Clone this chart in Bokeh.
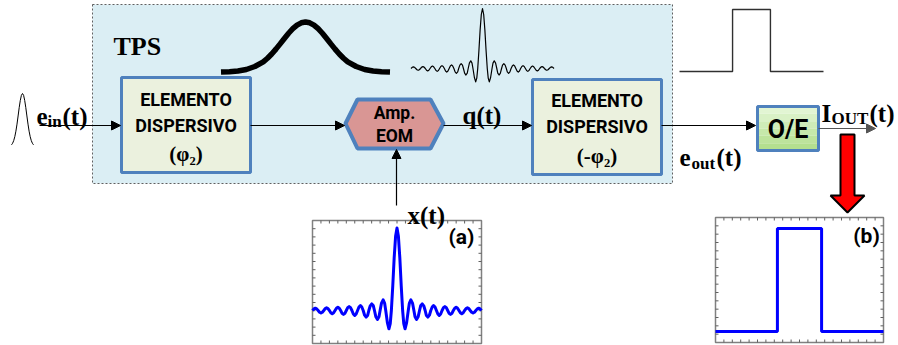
from bokeh.plotting import figure
from bokeh.models import Range1d, Arrow, NormalHead, Label
from bokeh.embed import file_html
from bokeh.resources import INLINE

# ---------------- data ----------------
# input pulse e_in(t): half profile, normalised time 0..1, amplitude 0..1
ein_t = [0.0, 0.1, 0.2, 0.3, 0.4, 0.5, 0.6, 0.7, 0.8, 0.9, 1.0]
ein_v = [1.0, 0.966, 0.87, 0.733, 0.576, 0.422, 0.289, 0.185, 0.11, 0.061, 0.032]

# dispersed (broadened) pulse: half profile
broad_t = [0.0, 0.05, 0.1, 0.15, 0.2, 0.25, 0.3, 0.35, 0.4, 0.45, 0.5, 0.6, 0.7, 0.8, 0.9, 1.0]
broad_v = [1.0, 0.984, 0.938, 0.866, 0.775, 0.671, 0.563, 0.458, 0.36, 0.275, 0.203, 0.11, 0.05, 0.02, 0.006, 0.0]

# modulating signal x(t) (and q(t)): half profile, time in lobe units 0..15
xs_t = [0.0, 0.25, 0.5, 0.75, 1.0, 1.2, 1.43, 1.7, 2.0, 2.2, 2.46, 2.75,
        3.0, 3.2, 3.47, 3.75, 4.0, 4.2, 4.48, 4.75, 5.0, 5.2, 5.48, 5.75,
        6.0, 6.25, 6.49, 6.75, 7.0, 7.25, 7.5, 7.75, 8.0, 8.25, 8.5, 8.75,
        9.0, 9.25, 9.5, 9.75, 10.0, 10.25, 10.5, 10.75, 11.0, 11.25, 11.5, 11.75,
        12.0, 12.25, 12.5, 12.75, 13.0, 13.25, 13.5, 13.75, 14.0, 14.25, 14.5, 14.75, 15.0]
xs_v = [1.0, 0.90, 0.64, 0.30, 0.0, -0.16, -0.222, -0.15, 0.0, 0.09, 0.129, 0.09,
        0.0, -0.077, -0.109, -0.077, 0.0, 0.057, 0.081, 0.057, 0.0, -0.057, -0.081, -0.057,
        0.0, 0.042, 0.06, 0.042, 0.0, -0.042, -0.06, -0.042, 0.0, 0.034, 0.048, 0.034,
        0.0, -0.034, -0.048, -0.034, 0.0, 0.028, 0.04, 0.028, 0.0, -0.028, -0.04, -0.028,
        0.0, 0.023, 0.032, 0.023, 0.0, -0.021, -0.03, -0.021, 0.0, 0.02, 0.028, 0.02, 0.0]
XS_SPAN = 15.0

# rectangular output pulse I_OUT(t), normalised time -1..1
rect_t = [-1.0, -0.263, -0.263, 0.263, 0.263, 1.0]
rect_v = [0.0, 0.0, 1.0, 1.0, 0.0, 0.0]

# ---------------- helpers ----------------
def mirror(t, v):
    tt = [-a for a in reversed(t[1:])] + list(t)
    vv = list(reversed(v[1:])) + list(v)
    return tt, vv

def place(t, v, cx, half_w, base_y, amp, span=1.0):
    return [cx + a / span * half_w for a in t], [base_y - b * amp for b in v]

W, H = 898, 345
p = figure(width=W, height=H, x_range=Range1d(0, W), y_range=Range1d(H, 0),
           output_backend="svg", toolbar_location=None,
           x_axis_type=None, y_axis_type=None, min_border=0)
p.outline_line_color = None
p.grid.visible = False
p.background_fill_color = "white"
p.border_fill_color = "white"

SERIF = "Liberation Serif"
SANS = "Roboto"
BLUE_BORDER = "#4f81bd"

def txt(x, y, s, font, size, align="left", baseline="alphabetic", style="bold", color="black"):
    p.add_layout(Label(x=x, y=y, text=s, text_font=font, text_font_size=f"{size}px",
                       text_font_style=style, text_align=align, text_baseline=baseline,
                       text_color=color))

def arrow(x0, y0, x1, y1, color="black", lw=1.2):
    p.add_layout(Arrow(end=NormalHead(size=9, fill_color=color, line_color=color, line_width=1),
                       x_start=x0, y_start=y0, x_end=x1, y_end=y1,
                       line_color=color, line_width=lw))

# ---------------- TPS region ----------------
p.quad(left=92, right=672, top=4, bottom=183, fill_color="#dbeef4",
       line_color="#606060", line_dash="2 2", line_width=1)
txt(113, 46, "TPS", SERIF, 26)

# broadened gaussian
bt, bv = mirror(broad_t, broad_v)
gx, gy = place(bt, bv, 305, 84.5, 71.5, 50)
p.line(gx, gy, line_color="black", line_width=5.5)

# q(t) waveform (thin black)
qt, qv = mirror(xs_t, xs_v)
qx, qy = place(qt, qv, 482, 71.5, 68, 60, XS_SPAN)
p.line(qx, qy, line_color="black", line_width=1.2, line_join="round")

# rectangular pulse (top right)
rx, ry = place(rect_t, rect_v, 751, 72, 71, 62)
p.line(rx, ry, line_color="#303030", line_width=1.4)

# input pulse
et, ev = mirror(ein_t, ein_v)
ex, ey = place(et, ev, 22, 11, 146, 53)
p.line(ex, ey, line_color="black", line_width=1)

# ---------------- blocks ----------------
for (l, r, t, b) in [(121, 250, 77, 172), (532, 661, 79, 174)]:
    p.quad(left=l, right=r, top=t, bottom=b, fill_color="#ebf1de",
           line_color=BLUE_BORDER, line_width=3)

txt(185.5, 99, "ELEMENTO", SANS, 18, align="center", baseline="middle")
txt(185.5, 125, "DISPERSIVO", SANS, 18, align="center", baseline="middle")
txt(185.5, 153, "(φ₂)", SERIF, 21, align="center", baseline="middle")
txt(596.5, 100, "ELEMENTO", SANS, 18, align="center", baseline="middle")
txt(596.5, 126, "DISPERSIVO", SANS, 18, align="center", baseline="middle")
txt(596.5, 155, "(-φ₂)", SERIF, 21, align="center", baseline="middle")

# hexagon modulator
p.patch([345, 357, 430, 443, 430, 357], [123, 99, 99, 123, 148, 148],
        fill_color="#d99694", line_color=BLUE_BORDER, line_width=4)
txt(394, 112, "Amp.", SANS, 17.5, align="center", baseline="middle")
txt(394, 135, "EOM", SANS, 17.5, align="center", baseline="middle")

# O/E block with vertical gradient
greens = ["#e2f5d3", "#d9f1c6", "#cfecb8", "#c6e8aa", "#bde39c", "#b4df8f"]
top, bot = 106, 150
step = (bot - top) / len(greens)
for i, c in enumerate(greens):
    p.quad(left=757, right=818, top=top + i * step, bottom=top + (i + 1) * step,
           fill_color=c, line_color=None)
p.quad(left=757, right=818, top=top, bottom=bot, fill_color=None,
       line_color=BLUE_BORDER, line_width=3)
txt(787.5, 129, "O/E", SANS, 25, align="center", baseline="middle")

# ---------------- arrows ----------------
arrow(39, 125, 120, 125)
arrow(250, 125, 344, 125)
arrow(396, 205, 396, 149)
arrow(443, 125, 531, 125)
arrow(661, 125, 755, 125)
arrow(818, 128, 875, 128, color="#555555")

# red down arrow
p.patch([840, 854, 854, 864, 847, 830, 840], [134, 134, 195, 195, 212, 195, 195],
        fill_color="#ff0000", line_color="black", line_width=2)

# ---------------- signal labels ----------------
txt(36, 116, "e", SERIF, 25)
txt(47, 121, "in", SERIF, 17)
txt(62, 116, "(t)", SERIF, 25)
txt(462, 115, "q(t)", SERIF, 25)
txt(407, 215, "x(t)", SERIF, 25)
txt(679, 157, "e", SERIF, 25)
txt(691, 163, "out", SERIF, 17)
txt(716, 157, "(t)", SERIF, 25)
txt(821, 113, "I", SERIF, 25)
txt(831, 118, "OUT", SERIF, 17)
txt(869, 113, "(t)", SERIF, 25)

# ---------------- insets ----------------
def frame(x0, x1, y0, y1, nx, ny):
    p.quad(left=x0, right=x1, top=y0, bottom=y1, fill_color="white",
           line_color="#808080", line_width=1.5)
    sx0, sy0, sx1, sy1 = [], [], [], []
    L = 3
    for i in range(1, nx):
        xx = x0 + (x1 - x0) * i / nx
        sx0 += [xx, xx]; sx1 += [xx, xx]
        sy0 += [y0, y1]; sy1 += [y0 + L, y1 - L]
    for j in range(1, ny):
        yy = y0 + (y1 - y0) * j / ny
        sx0 += [x0, x1]; sx1 += [x0 + L, x1 - L]
        sy0 += [yy, yy]; sy1 += [yy, yy]
    p.segment(sx0, sy0, sx1, sy1, line_color="#606060", line_width=1)

frame(312, 481, 220, 343, 20, 15)
ax, ay = place(qt, qv, 396.5, 84.5, 310, 82.5, XS_SPAN)
p.line(ax, ay, line_color="#0000ff", line_width=3, line_join="round")
txt(461, 236, "(a)", SANS, 21, align="center", baseline="middle")

frame(715, 883, 217, 342, 20, 15)
bx, by = place(rect_t, rect_v, 799, 84, 331, 103)
p.line(bx, by, line_color="#0000ff", line_width=3)
txt(866, 235, "(b)", SANS, 21, align="center", baseline="middle")

open("out.html", "w").write(file_html(p, INLINE))
